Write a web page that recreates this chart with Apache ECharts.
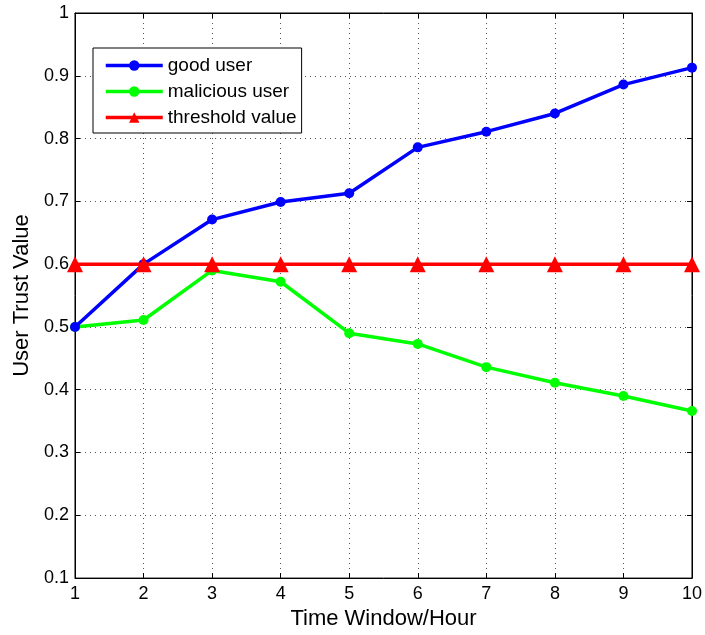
<!DOCTYPE html>
<html>
<head>
<meta charset="utf-8">
<script src="https://cdn.jsdelivr.net/npm/echarts@6/dist/echarts.min.js"></script>
<style>
  html, body { margin: 0; padding: 0; background: #fff; }
  #main { width: 705px; height: 635px; }
</style>
</head>
<body>
<div id="main"></div>
<script>
// time windows (hours)
var hours = [1, 2, 3, 4, 5, 6, 7, 8, 9, 10];
// trust values
var goodUser = [0.50, 0.60, 0.671, 0.699, 0.713, 0.786, 0.811, 0.840, 0.886, 0.913];
var maliciousUser = [0.50, 0.511, 0.590, 0.572, 0.490, 0.473, 0.436, 0.411, 0.390, 0.366];
var threshold = [0.6, 0.6, 0.6, 0.6, 0.6, 0.6, 0.6, 0.6, 0.6, 0.6];

function pairs(ys) {
    return hours.map(function (h, i) { return [h, ys[i]]; });
}

var font = 'Liberation Sans, Arial, Helvetica, sans-serif';
var chart = echarts.init(document.getElementById('main'));

var splitDots = { show: true, lineStyle: { color: '#555', type: [1, 4], width: 1 } };
var tickIn = { show: true, inside: true, length: 5, lineStyle: { color: '#000' } };

var option = {
    animation: false,
    backgroundColor: '#fff',
    textStyle: { fontFamily: font },
    grid: {
        left: 75, right: 12, top: 13, bottom: 55,
        show: true, borderColor: '#000', borderWidth: 1
    },
    legend: {
        orient: 'vertical',
        left: 93, top: 48,
        padding: [8, 5, 6, 11],
        itemGap: 7,
        itemWidth: 57,
        itemHeight: 13,
        backgroundColor: '#fff',
        borderColor: '#000',
        borderWidth: 1,
        borderRadius: 0,
        lineStyle: { width: 3.5 },
        textStyle: { fontSize: 19, color: '#000', fontFamily: font, padding: [2, 0, 0, 0] },
        data: ['good user', 'malicious user', 'threshold value']
    },
    xAxis: [{
        type: 'value', min: 1, max: 10, interval: 1,
        name: 'Time Window/Hour', nameLocation: 'middle', nameGap: 28,
        nameTextStyle: { fontSize: 22, color: '#000', fontFamily: font },
        axisLine: { show: true, lineStyle: { color: '#000' } },
        axisTick: tickIn,
        axisLabel: { fontSize: 18, color: '#000', margin: 7, fontFamily: font },
        splitLine: splitDots
    }, {
        type: 'value', min: 1, max: 10, interval: 1, position: 'top',
        axisLine: { show: true, lineStyle: { color: '#000' } },
        axisTick: tickIn, axisLabel: { show: false }, splitLine: { show: false }
    }],
    yAxis: [{
        type: 'value', min: 0.1, max: 1, interval: 0.1,
        name: 'User Trust Value', nameLocation: 'middle', nameGap: 42,
        nameTextStyle: { fontSize: 22, color: '#000', fontFamily: font },
        axisLine: { show: true, lineStyle: { color: '#000' } },
        axisTick: tickIn,
        axisLabel: {
            fontSize: 18, color: '#000', margin: 6, fontFamily: font,
            formatter: function (v) { return String(Math.round(v * 10) / 10); }
        },
        splitLine: splitDots
    }, {
        type: 'value', min: 0.1, max: 1, interval: 0.1, position: 'right',
        axisLine: { show: true, lineStyle: { color: '#000' } },
        axisTick: tickIn, axisLabel: { show: false }, splitLine: { show: false }
    }],
    series: [{
        name: 'good user', type: 'line',
        data: pairs(goodUser),
        symbol: 'circle', symbolSize: 10,
        lineStyle: { color: '#0000ff', width: 3.5 },
        itemStyle: { color: '#0000ff' },
        z: 3
    }, {
        name: 'malicious user', type: 'line',
        data: pairs(maliciousUser),
        symbol: 'circle', symbolSize: 10,
        lineStyle: { color: '#00ff00', width: 3.5 },
        itemStyle: { color: '#00ff00' },
        z: 2
    }, {
        name: 'threshold value', type: 'line',
        data: pairs(threshold),
        symbol: 'triangle', symbolSize: 16,
        lineStyle: { color: '#ff0000', width: 3.5 },
        itemStyle: { color: '#ff0000' },
        z: 4
    }]
};

chart.setOption(option);
</script>
</body>
</html>
